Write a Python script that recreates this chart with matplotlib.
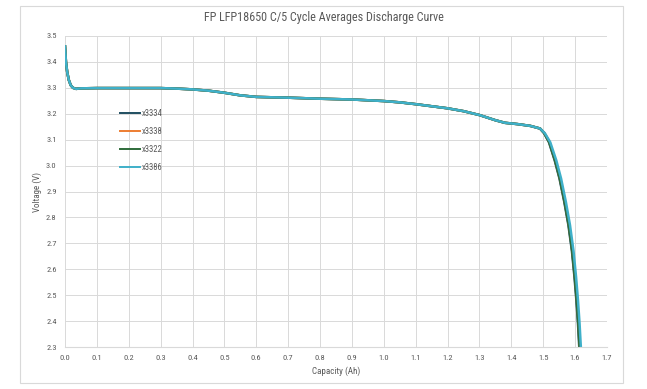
import matplotlib.pyplot as plt
from matplotlib.patches import Rectangle

plt.rcParams['font.family'] = ['Roboto Condensed', 'DejaVu Sans']

# shared plateau (capacity Ah, voltage V)
plateau_cap = [0.0, 0.003, 0.007, 0.012, 0.018, 0.025, 0.035, 0.05, 0.1, 0.2, 0.3, 0.35,
               0.4, 0.45, 0.5, 0.55, 0.6, 0.7, 0.8, 0.9, 1.0, 1.05, 1.1, 1.15, 1.2,
               1.25, 1.3, 1.35, 1.38, 1.42, 1.46, 1.49]
plateau_v = [3.46, 3.40, 3.36, 3.33, 3.31, 3.300, 3.296, 3.298, 3.299, 3.299, 3.299, 3.297,
             3.294, 3.289, 3.281, 3.271, 3.265, 3.262, 3.258, 3.255, 3.249, 3.244, 3.237,
             3.229, 3.221, 3.210, 3.195, 3.175, 3.165, 3.160, 3.153, 3.143]

# tails (knee to cutoff) differ slightly per cell
tail_cap = {
    'x3334': [1.503, 1.518, 1.536, 1.551, 1.566, 1.579, 1.590, 1.598, 1.604, 1.609, 1.613],
    'x3338': [1.504, 1.520, 1.538, 1.553, 1.568, 1.581, 1.592, 1.600, 1.606, 1.611, 1.615],
    'x3322': [1.503, 1.519, 1.537, 1.552, 1.567, 1.580, 1.591, 1.599, 1.605, 1.610, 1.614],
    'x3386': [1.505, 1.522, 1.541, 1.556, 1.571, 1.584, 1.595, 1.603, 1.609, 1.614, 1.618],
}
tail_v = [3.125, 3.09, 3.02, 2.95, 2.86, 2.77, 2.67, 2.57, 2.48, 2.39, 2.30]

colors = {'x3334': '#1f4e60', 'x3338': '#ed7d31', 'x3322': '#2e6b3a', 'x3386': '#3fb0c9'}

fig = plt.figure(figsize=(6.47, 3.89), dpi=100)
fig.patches.append(Rectangle((20 / 647, 6 / 389), 603 / 647, 377 / 389, transform=fig.transFigure,
                             fill=False, edgecolor='#d9d9d9', lw=0.8))
ax = fig.add_axes([65 / 647, 42 / 389, 542 / 647, 311 / 389])

for name in ['x3334', 'x3338', 'x3322', 'x3386']:
    ax.plot(plateau_cap + tail_cap[name], plateau_v + tail_v, color=colors[name], lw=1.8,
            label=name)

ax.set_xlim(0, 1.7)
ax.set_ylim(2.3, 3.5)
ax.set_xticks([i / 10 for i in range(18)])
ax.set_yticks([2.3 + i / 10 for i in range(13)])
ax.set_xticklabels(['%.1f' % (i / 10) for i in range(18)])
ax.set_yticklabels(['%.1f' % (2.3 + i / 10) for i in range(13)])
ax.grid(True, color='#d9d9d9', lw=0.7)
ax.set_axisbelow(True)
for s in ['top', 'right', 'left']:
    ax.spines[s].set_visible(False)
ax.spines['bottom'].set_color('#d9d9d9')
ax.tick_params(length=0, labelsize=6, colors='#595959', pad=6)

ax.set_xlabel('Capacity (Ah)', fontsize=6.5, color='#595959', labelpad=4)
ax.set_ylabel('Voltage (V)', fontsize=6.5, color='#595959', labelpad=3)
fig.text(0.5, 1 - 18 / 389, 'FP LFP18650 C/5 Cycle Averages Discharge Curve', ha='center',
         va='center', fontsize=8.7, color='#595959')

leg = ax.legend(loc='upper left', bbox_to_anchor=(0.087, 0.79), frameon=False, fontsize=6.2,
                handlelength=2.3, handletextpad=0.25, labelspacing=1.05)
for line in leg.get_lines():
    line.set_linewidth(1.4)
for t in leg.get_texts():
    t.set_color('#595959')

fig.savefig('out.png', dpi=100)
